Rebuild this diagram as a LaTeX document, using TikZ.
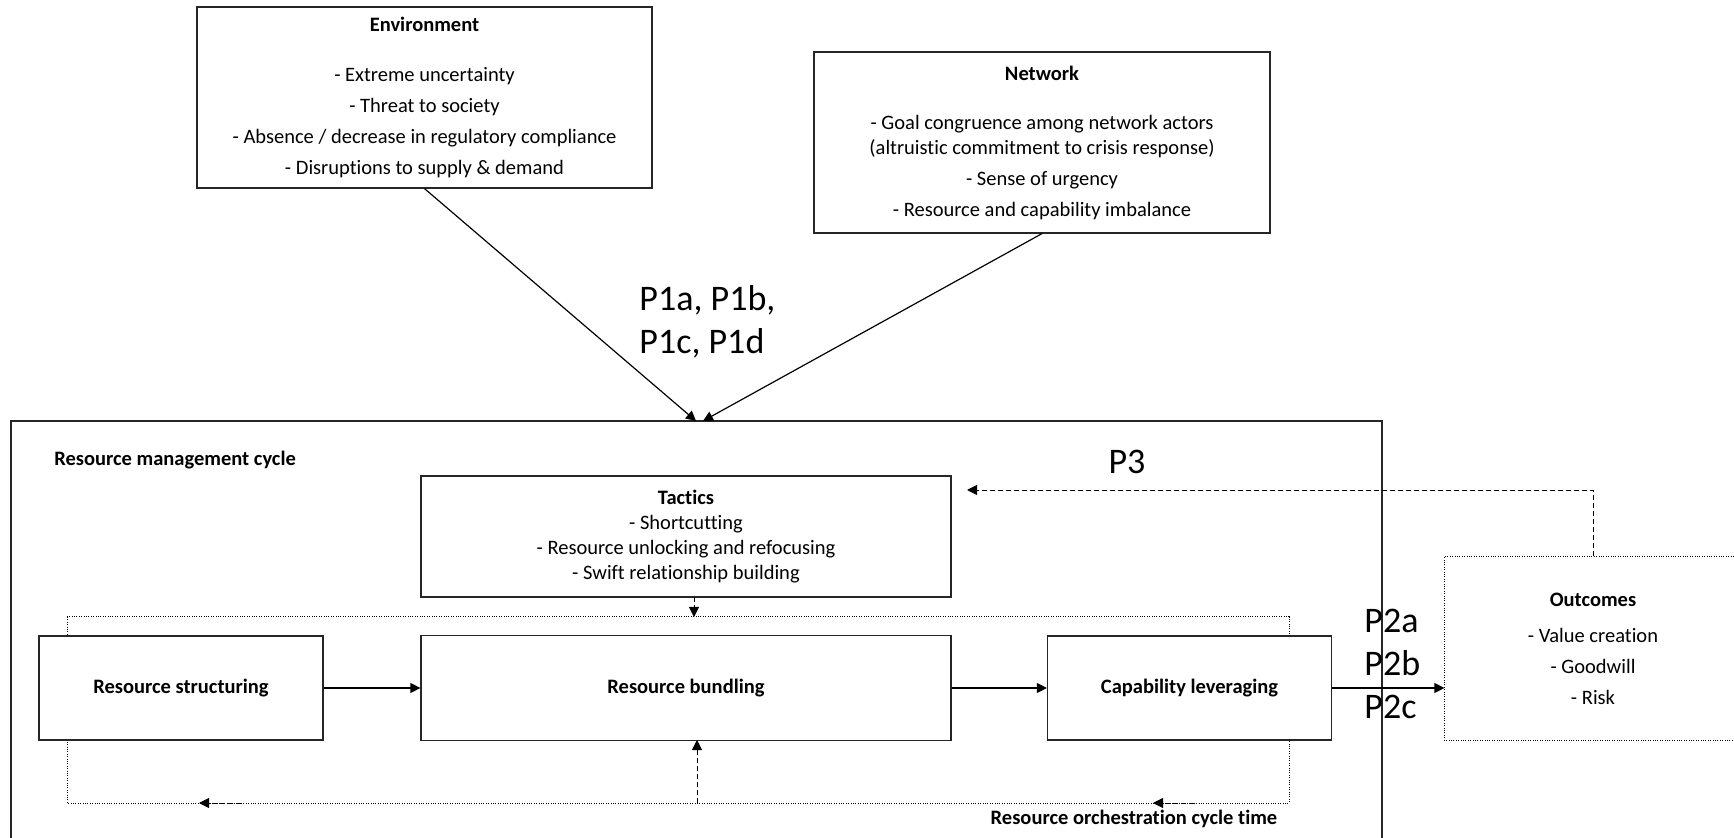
\documentclass[tikz,border=0pt]{standalone}
\usepackage{fontspec}
\setmainfont[Ligatures=NoCommon]{Carlito}
\usetikzlibrary{arrows.meta}
\newcommand\smtxt{\fontsize{10.25}{12.5}\selectfont}
\newcommand\bigtxt{\fontsize{18}{21.5}\selectfont}
\begin{document}
\begin{tikzpicture}[x=0.5pt,y=-0.5pt,
  box/.style={draw=black!85, line width=0.6pt, fill=white, inner sep=0pt, align=center, font=\smtxt},
  lbl/.style={inner sep=0pt, font=\smtxt},
  biglbl/.style={inner sep=0pt, font=\bigtxt},
  arr/.style={-{Triangle[length=5pt,width=5pt]}, line width=0.6pt, draw=black},
  dotline/.style={line width=0.5pt, dash pattern=on 0.5pt off 0.7pt},
  dashline/.style={line width=0.45pt, dash pattern=on 2.5pt off 1.5pt}
]
\useasboundingbox (0,0) rectangle (1734,838);
\clip (0,0) rectangle (1734,838);
\fill[white] (0,0) rectangle (1734,838);

% outer container
\node[box, fill=none, minimum width=685.5pt, minimum height=219.5pt] (outer) at (696.5,640.5) {};

% dotted cycle loop
\draw[dotline] (67,617) rectangle (1289,803);

% top boxes
\node[box, minimum width=227.5pt, minimum height=90.5pt] (env) at (424.5,97.5)
  {\textbf{Environment}\\[12.5pt]- Extreme uncertainty\\[3pt]- Threat to society\\[3pt]- Absence / decrease in regulatory compliance\\[3pt]- Disruptions to supply \& demand};
\node[box, minimum width=228pt, minimum height=90.5pt] (net) at (1042,142.5)
  {\textbf{Network}\\[12pt]- Goal congruence among network actors\\(altruistic commitment to crisis response)\\[3pt]- Sense of urgency\\[3pt]- Resource and capability imbalance};

% inner boxes
\node[box, minimum width=265pt, minimum height=60.5pt] (tac) at (686,536.5)
  {\textbf{Tactics}\\- Shortcutting\\- Resource unlocking and refocusing\\- Swift relationship building};
\node[box, minimum width=142pt, minimum height=52pt] (rs) at (181,688) {\textbf{Resource structuring}};
\node[box, minimum width=265pt, minimum height=52.5pt] (rb) at (686,688) {\textbf{Resource bundling}};
\node[box, minimum width=142pt, minimum height=52pt] (cl) at (1189.5,688) {\textbf{Capability leveraging}};
\node[box, draw=none, minimum width=148pt, minimum height=91.5pt] (out) at (1593,648.5)
  {\textbf{Outcomes}\\[5.5pt]- Value creation\\[3pt]- Goodwill\\[3pt]- Risk};
\draw[dotline] (out.south west) rectangle (out.north east);

% labels
\node[lbl, anchor=west] (rmclbl) at (54,460) {\textbf{Resource management cycle}};
\node[lbl] (roct) at (1134,819) {\textbf{Resource orchestration cycle time}};
\node[biglbl, anchor=west, align=left] (p1) at (639,322) {P1a, P1b,\\P1c, P1d};
\node[biglbl, anchor=west, align=left] (p2) at (1364,664) {P2a\\P2b\\P2c};
\node[biglbl] (p3) at (1127,462) {P3};

% coordinates
\coordinate (tip1) at (696,421);
\coordinate (tip2) at (703,421);
\coordinate (tacS) at (694,597);
\coordinate (loopT) at (694,617);
\coordinate (loopB) at (697,803);
\coordinate (rbS) at (697,740);
\coordinate (p3tip) at (967,490);
\coordinate (la1) at (241,803);
\coordinate (la2) at (199,803);
\coordinate (ra1) at (1194,803);
\coordinate (ra2) at (1153,803);

% connectors
\draw[arr] (env.south) -- (tip1);
\draw[arr] (net.south) -- (tip2);
\draw[arr] (rs.east) -- (rs.east -| rb.west);
\draw[arr] (rb.east) -- (rb.east -| cl.west);
\draw[arr] (cl.east) -- (cl.east -| out.west);
\draw[arr, dashline] (tacS) -- (loopT);
\draw[arr, dashline] (loopB) -- (rbS);
\draw[arr, dashline] (out.north) |- (p3tip);
\draw[arr, dashline] (la1) -- (la2);
\draw[arr, dashline] (ra1) -- (ra2);
\end{tikzpicture}
\end{document}
